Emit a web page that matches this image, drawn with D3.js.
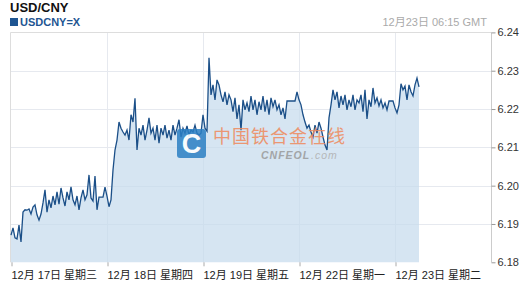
<!DOCTYPE html>
<html><head><meta charset="utf-8">
<script src="https://cdn.jsdelivr.net/npm/d3@7/dist/d3.min.js"></script>
<style>body{margin:0;background:#fff;}svg{display:block;font-family:"Liberation Sans",Arial,"Noto Sans CJK SC",sans-serif;}</style>
</head><body>
<svg id="c" width="525" height="288"></svg>
<script>
const title = "USD/CNY";
const seriesName = "USDCNY=X";
const stamp = "12月23日 06:15 GMT";
const dayLabels = ["12月 17日 星期三","12月 18日 星期四","12月 19日 星期五","12月 22日 星期一","12月 23日 星期二"];
const dayStartHours = [0,24,48,72,96];
const yTicks = [6.18,6.19,6.20,6.21,6.22,6.23,6.24];
const stepHours = 0.5;
const rate = [
6.1871,6.1890,6.1864,6.1861,6.1897,6.1853,6.1931,6.1937,6.1936,6.1939,
6.1926,6.1944,6.1950,6.1924,6.1910,6.1926,6.1955,6.1989,6.1931,6.1963,
6.1942,6.1973,6.1950,6.1984,6.1952,6.1994,6.1968,6.1947,6.1984,6.1963,
6.1997,6.1963,6.1950,6.1973,6.1937,6.1968,6.1989,6.1963,6.1976,6.2028,
6.1968,6.1960,6.2025,6.1937,6.1970,6.1970,6.1970,6.1996,6.1973,6.1945,
6.1963,6.2041,6.2093,6.2119,6.2166,6.2150,6.2140,6.2132,6.2145,6.2119,
6.2185,6.2166,6.2228,6.2093,6.2150,6.2132,6.2158,6.2119,6.2145,6.2177,
6.2137,6.2150,6.2119,6.2158,6.2111,6.2150,6.2132,6.2158,6.2124,6.2145,
6.2119,6.2158,6.2132,6.2150,6.2172,6.2127,6.2150,6.2137,6.2156,6.2132,
6.2145,6.2140,6.2158,6.2137,6.2132,6.2137,6.2185,6.2150,6.2142,6.2334,
6.2237,6.2263,6.2224,6.2276,6.2263,6.2237,6.2219,6.2245,6.2211,6.2237,
6.2224,6.2193,6.2229,6.2174,6.2211,6.2145,6.2224,6.2198,6.2216,6.2193,
6.2234,6.2198,6.2224,6.2185,6.2219,6.2198,6.2234,6.2193,6.2224,6.2185,
6.2229,6.2206,6.2224,6.2198,6.2211,6.2185,6.2203,6.2174,6.2221,6.2221,
6.2221,6.2221,6.2221,6.2245,6.2224,6.2211,6.2185,6.2166,6.2150,6.2158,
6.2140,6.2127,6.2158,6.2137,6.2166,6.2150,6.2127,6.2106,6.2093,6.2177,
6.2211,6.2250,6.2224,6.2245,6.2203,6.2234,6.2211,6.2237,6.2198,6.2224,
6.2206,6.2237,6.2198,6.2224,6.2216,6.2237,6.2193,6.2250,6.2174,6.2224,
6.2206,6.2255,6.2216,6.2229,6.2208,6.2224,6.2203,6.2216,6.2198,6.2221,
6.2221,6.2221,6.2203,6.2190,6.2211,6.2266,6.2250,6.2260,6.2224,6.2263,
6.2245,6.2234,6.2263,6.2281,6.2258
];

const svg = d3.select("#c");
const L = 11, R = 491, T = 32.4, B = 262.3;
const x = d3.scaleLinear().domain([0,120]).range([L,R]);
const y = d3.scaleLinear().domain([6.18,6.24]).range([B,T]);
const pts = rate.map((v,i)=>({h:i*stepHours, v}));

// grid
const g = svg.append("g");
g.selectAll("line.hg").data(yTicks.slice(1,-1)).join("line")
  .attr("x1",L).attr("x2",R).attr("y1",d=>Math.round(y(d))+0.5).attr("y2",d=>Math.round(y(d))+0.5)
  .attr("stroke","#e6e9ef").attr("stroke-width",1);
g.selectAll("line.vg").data(dayStartHours.slice(1)).join("line")
  .attr("x1",d=>Math.round(x(d))+0.5).attr("x2",d=>Math.round(x(d))+0.5).attr("y1",T).attr("y2",B)
  .attr("stroke","#e6e9ef").attr("stroke-width",1);
// border top/left
svg.append("line").attr("x1",10.5).attr("x2",R).attr("y1",32.5).attr("y2",32.5).attr("stroke","#dddddd");
svg.append("line").attr("x1",10.5).attr("x2",10.5).attr("y1",32.5).attr("y2",B).attr("stroke","#dddddd");

// area + line
svg.append("path").datum(pts)
  .attr("d", d3.area().x(d=>x(d.h)).y0(B).y1(d=>y(d.v)))
  .attr("fill","#c4daec").attr("fill-opacity",0.7);
svg.append("path").datum(pts)
  .attr("d", d3.line().x(d=>x(d.h)).y(d=>y(d.v)))
  .attr("fill","none").attr("stroke","#1b4f88").attr("stroke-width",1.3);

// watermark
const wm = svg.append("g").attr("opacity",0.85);
wm.append("rect").attr("x",177).attr("y",129).attr("width",29).attr("height",29).attr("rx",3).attr("fill","#2b7fc4");
wm.append("text").attr("x",191.5).attr("y",153).attr("text-anchor","middle").attr("font-size",27).attr("font-weight","bold")
  .attr("fill","#ffffff").attr("font-family","Liberation Sans, Arial").text("C");
wm.append("text").attr("x",213).attr("y",143).attr("font-size",18).attr("fill","#ef8a5c")
  .attr("font-family","Noto Sans CJK SC").attr("letter-spacing",1).text("中国铁合金在线");
wm.append("text").attr("x",261).attr("y",159).attr("font-size",10.5).attr("font-style","italic").attr("font-weight","bold")
  .attr("fill","#9a9a9a").attr("letter-spacing",1).text("CNFEOL");
wm.append("text").attr("x",311).attr("y",159).attr("font-size",10.5).attr("font-style","italic")
  .attr("fill","#b0b0b0").attr("letter-spacing",1).text(".com");

// right axis
const ya = svg.append("g").attr("transform",`translate(${R+0.5},0)`)
  .call(d3.axisRight(y).tickValues(yTicks).tickFormat(d3.format(".2f")).tickSize(4).tickPadding(2));
ya.select(".domain").attr("stroke","#cccccc").attr("d",`M0,${T}V${B}`);
ya.selectAll(".tick line").attr("stroke","#999");
ya.selectAll(".tick text").attr("font-size",11).attr("fill","#333").attr("font-family","Liberation Sans, Arial");

// bottom axis
const xa = svg.append("g").attr("transform",`translate(0,${B})`)
  .call(d3.axisBottom(x).tickValues(dayStartHours).tickFormat((d,i)=>dayLabels[i]).tickSize(4).tickPadding(5));
xa.select(".domain").remove();
xa.selectAll(".tick line").attr("stroke","#aaaaaa").attr("transform","translate(0.5,0)");
xa.selectAll(".tick text").attr("text-anchor","start").attr("font-size",11).attr("fill","#222")
  .attr("font-family","Liberation Sans, Arial, Noto Sans CJK SC");

// header
svg.append("text").attr("x",10).attr("y",12).attr("font-size",13).attr("font-weight","bold").attr("fill","#111").text(title);
svg.append("rect").attr("x",10).attr("y",18).attr("width",8).attr("height",8).attr("fill","#1e5592");
svg.append("text").attr("x",20).attr("y",26).attr("font-size",11).attr("font-weight","bold").attr("fill","#1e5592").text(seriesName);
svg.append("text").attr("x",487).attr("y",26).attr("text-anchor","end").attr("font-size",11).attr("fill","#aaaaaa").text(stamp);
</script>
</body></html>
